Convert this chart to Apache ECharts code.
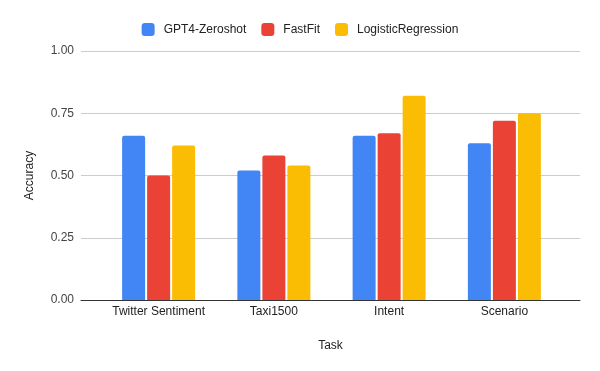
<!DOCTYPE html>
<html>
<head>
<meta charset="utf-8">
<script src="https://cdn.jsdelivr.net/npm/echarts@6/dist/echarts.min.js"></script>
<style>html,body{margin:0;padding:0;background:#fff}#c{width:600px;height:371px}</style>
</head>
<body>
<div id="c"></div>
<script>
const categories = ['Twitter Sentiment', 'Taxi1500', 'Intent', 'Scenario'];
const seriesNames = ['GPT4-Zeroshot', 'FastFit', 'LogisticRegression'];
const gpt4Zeroshot = [0.66, 0.52, 0.66, 0.63];
const fastFit = [0.50, 0.58, 0.67, 0.72];
const logisticRegression = [0.62, 0.54, 0.82, 0.75];
const yTicks = [0, 0.25, 0.5, 0.75, 1];
const colors = ['#4285F4', '#EA4335', '#FBBC04'];

const FONT = 'Arial, "Liberation Sans", sans-serif';
const chart = echarts.init(document.getElementById('c'), null, {renderer: 'canvas'});
const values = [gpt4Zeroshot, fastFit, logisticRegression];
chart.setOption({
  animation: false,
  textStyle: {fontFamily: FONT},
  color: colors,
  legend: {
    top: 18, left: 'center',
    itemWidth: 13, itemHeight: 13, itemGap: 15,
    icon: 'roundRect',
    textStyle: {fontSize: 12, color: '#222', fontFamily: FONT, padding: [0, 0, 0, 4]},
    data: seriesNames
  },
  grid: [
    {left: 81, right: 20, top: 51, bottom: 71},
    {left: 101, right: 38, top: 51, bottom: 71}
  ],
  xAxis: [
    {gridIndex: 0, type: 'value', min: 0, max: 1,
     axisLine: {show: true, lineStyle: {color: '#333', width: 1}},
     axisTick: {show: false}, axisLabel: {show: false}, splitLine: {show: false},
     name: 'Task', nameLocation: 'middle', nameGap: 40,
     nameTextStyle: {fontSize: 12, color: '#222', fontFamily: FONT}},
    {gridIndex: 1, type: 'category', data: categories,
     axisLine: {show: false}, axisTick: {show: false},
     axisLabel: {fontSize: 12, color: '#222', margin: 6, interval: 0, fontFamily: FONT}}
  ],
  yAxis: [
    {gridIndex: 0, type: 'value', min: 0, max: 1, interval: 0.25,
     axisLine: {show: false}, axisTick: {show: false},
     axisLabel: {fontSize: 12, color: '#444', margin: 7, fontFamily: FONT,
       formatter: v => v.toFixed(2)},
     splitLine: {lineStyle: {color: '#cccccc', width: 1}},
     name: 'Accuracy', nameLocation: 'middle', nameGap: 45, nameRotate: 90,
     nameTextStyle: {fontSize: 12, color: '#222', fontFamily: FONT}},
    {gridIndex: 1, type: 'value', min: 0, max: 1, interval: 0.25, show: false}
  ],
  series: seriesNames.map((n, i) => ({
    name: n, type: 'bar', xAxisIndex: 1, yAxisIndex: 1,
    data: values[i], barWidth: 23, barGap: '8.7%',
    itemStyle: {color: colors[i], borderRadius: [2, 2, 0, 0]}
  }))
});
</script>
</body>
</html>
